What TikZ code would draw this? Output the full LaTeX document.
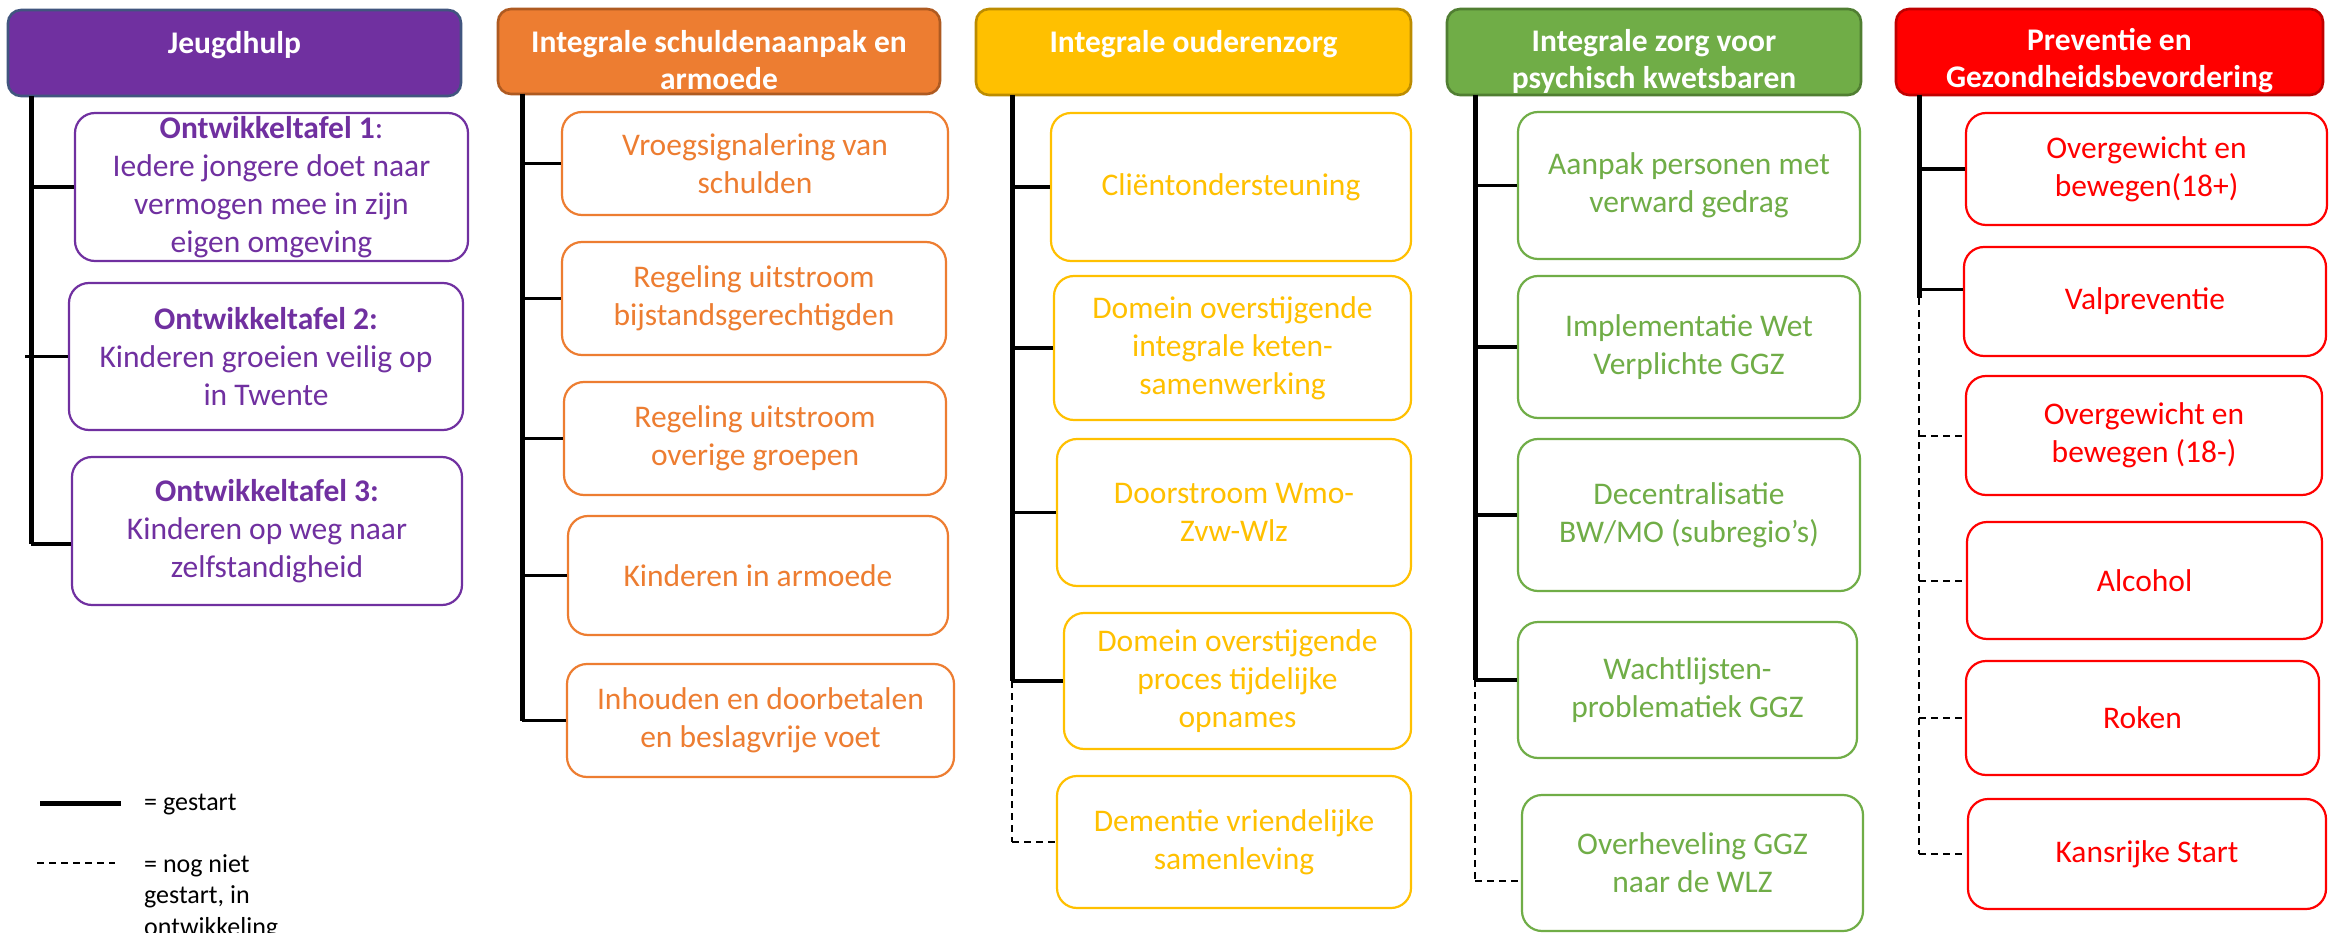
\documentclass[tikz,border=0pt]{standalone}
\usepackage{fontspec}
\setmainfont{Carlito}
\usetikzlibrary{fit}
\definecolor{jPur}{HTML}{7030A0}
\definecolor{jPurB}{HTML}{41557F}
\definecolor{sOra}{HTML}{ED7D31}
\definecolor{sOraB}{HTML}{AE5A21}
\definecolor{oGold}{HTML}{FFC000}
\definecolor{oGoldB}{HTML}{BC8C00}
\definecolor{gGrn}{HTML}{70AD47}
\definecolor{gGrnB}{HTML}{507E32}
\definecolor{pRed}{HTML}{FF0000}
\definecolor{pRedB}{HTML}{C00000}
\newcommand\itemfont{\fontsize{31.5}{38}\selectfont}
\newcommand\hdrfont{\bfseries\fontsize{31.5}{37}\selectfont}
\newcommand\legfont{\fontsize{26}{31.5}\selectfont}
\tikzset{
  hdr/.style 2 args={fill=#1, draw=#2, line width=2.6pt, rounded corners=13pt, inner sep=0pt},
  hdrtext/.style={text=white, font=\hdrfont, align=center, inner sep=0pt},
  item/.style={draw=#1, text=#1, line width=2.2pt, rounded corners=20pt, inner sep=0pt, align=center, font=\itemfont},
  spine/.style={draw=black, line width=5pt},
  branch/.style={draw=black, line width=3.6pt},
  todo/.style={draw=black, line width=2pt, dash pattern=on 7pt off 5pt},
  legtext/.style={font=\legfont, inner sep=0pt, text=black}
}
% name, colour, x1, y1, x2, y2, text
\newcommand\itembox[7]{%
  \pgfmathsetmacro\ibx{(#3+#5)/2}%
  \pgfmathsetmacro\iby{(#4+#6)/2}%
  \pgfmathsetmacro\ibw{#5-#3}%
  \pgfmathsetmacro\ibh{#6-#4}%
  \node[item=#2, minimum width=\ibw pt, minimum height=\ibh pt] (#1) at (\ibx,\iby) {#7};%
}
\begin{document}
\begin{tikzpicture}[x=1pt,y=-1pt]
\useasboundingbox (0,0) rectangle (2335,933);
\fill[white] (0,0) rectangle (2335,933);

% ---------------- Column 1: Jeugdhulp
\node[hdr={jPur}{jPurB}, fit={(8,10) (461,96)}] (h1) {};
\node[hdrtext] (h1t) at (234.5,45) {Jeugdhulp};
\itembox{j1}{jPur}{75}{113}{468}{261}{\textbf{Ontwikkeltafel 1}:\\Iedere jongere doet naar\\vermogen mee in zijn\\eigen omgeving}
\itembox{j2}{jPur}{69}{283}{463}{430}{\textbf{Ontwikkeltafel 2:}\\Kinderen groeien veilig op\\in Twente}
\itembox{j3}{jPur}{72}{457}{462}{605}{\textbf{Ontwikkeltafel 3:}\\Kinderen op weg naar\\zelfstandigheid}
\coordinate (s1) at (31,96);
\coordinate (s1l) at (25,96);
\coordinate (j3b) at ([yshift=-13pt]j3.west);
\draw[spine] (s1) -- (s1 |- j3b);
\draw[branch] (s1 |- j1.west) -- (j1.west);
\draw[branch] (s1l |- j2.west) -- (j2.west);
\draw[branch] (s1 |- j3b) -- (j3b);

% ---------------- Column 2: schulden
\node[hdr={sOra}{sOraB}, fit={(498,9) (940,94)}] (h2) {};
\node[hdrtext] (h2t) at (719,60.5) {Integrale schuldenaanpak en\\armoede};
\itembox{a1}{sOra}{562}{112}{948}{215}{Vroegsignalering van\\schulden}
\itembox{a2}{sOra}{562}{242}{946}{355}{Regeling uitstroom\\bijstandsgerechtigden}
\itembox{a3}{sOra}{564}{382}{946}{495}{Regeling uitstroom\\overige groepen}
\itembox{a4}{sOra}{568}{516}{948}{635}{Kinderen in armoede}
\itembox{a5}{sOra}{567}{664}{954}{777}{Inhouden en doorbetalen\\en beslagvrije voet}
\coordinate (s2) at (522,94);
\draw[spine] (s2) -- (s2 |- a5.west);
\foreach \b in {a1,a2,a3,a4,a5} \draw[branch] (s2 |- \b.west) -- (\b.west);

% ---------------- Column 3: ouderenzorg
\node[hdr={oGold}{oGoldB}, fit={(976,9) (1411,95)}] (h3) {};
\node[hdrtext] (h3t) at (1193.5,44) {Integrale ouderenzorg};
\itembox{o1}{oGold}{1051}{113}{1411}{261}{Cliëntondersteuning}
\itembox{o2}{oGold}{1054}{276}{1411}{420}{Domein overstijgende\\integrale keten-\\samenwerking}
\itembox{o3}{oGold}{1057}{439}{1411}{586}{Doorstroom Wmo-\\Zvw-Wlz}
\itembox{o4}{oGold}{1064}{613}{1411}{749}{Domein overstijgende\\proces tijdelijke\\opnames}
\itembox{o5}{oGold}{1057}{776}{1411}{908}{Dementie vriendelijke\\samenleving}
\coordinate (s3) at (1012,95);
\draw[spine] (s3) -- (s3 |- o4.west);
\draw[todo] (s3 |- o4.west) -- (s3 |- o5.west);
\foreach \b in {o1,o2,o3,o4} \draw[branch] (s3 |- \b.west) -- (\b.west);
\draw[todo] (s3 |- o5.west) -- (o5.west);

% ---------------- Column 4: psychisch kwetsbaren
\node[hdr={gGrn}{gGrnB}, fit={(1447,9) (1861,95)}] (h4) {};
\node[hdrtext] (h4t) at (1654,61) {Integrale zorg voor\\psychisch kwetsbaren};
\itembox{g1}{gGrn}{1518}{112}{1860}{259}{Aanpak personen met\\verward gedrag}
\itembox{g2}{gGrn}{1518}{276}{1860}{418}{Implementatie Wet\\Verplichte GGZ}
\itembox{g3}{gGrn}{1518}{439}{1860}{591}{Decentralisatie\\BW/MO (subregio’s)}
\itembox{g4}{gGrn}{1518}{622}{1857}{758}{Wachtlijsten-\\problematiek GGZ}
\itembox{g5}{gGrn}{1522}{795}{1863}{931}{Overheveling GGZ\\naar de WLZ}
\coordinate (s4) at (1475,95);
\coordinate (g4b) at ([yshift=10pt]g4.west);
\coordinate (g5b) at ([yshift=-18pt]g5.west);
\draw[spine] (s4) -- (s4 |- g4b);
\draw[todo] (s4 |- g4b) -- (s4 |- g5b);
\foreach \b in {g1,g2,g3} \draw[branch] (s4 |- \b.west) -- (\b.west);
\draw[branch] (s4 |- g4b) -- (g4b);
\draw[todo] (s4 |- g5b) -- (g5b);

% ---------------- Column 5: Preventie
\node[hdr={pRed}{pRedB}, fit={(1896,9) (2323,95)}] (h5) {};
\node[hdrtext] (h5t) at (2109.5,61) {Preventie en\\Gezondheidsbevordering};
\itembox{p1}{pRed}{1966}{113}{2327}{225}{Overgewicht en\\bewegen(18+)}
\itembox{p2}{pRed}{1964}{247}{2326}{356}{Valpreventie}
\itembox{p3}{pRed}{1966}{376}{2322}{495}{Overgewicht en\\bewegen (18-)}
\itembox{p4}{pRed}{1967}{522}{2322}{639}{Alcohol}
\itembox{p5}{pRed}{1966}{661}{2319}{775}{Roken}
\itembox{p6}{pRed}{1968}{799}{2326}{909}{Kansrijke Start}
\coordinate (s5) at (1919,95);
\coordinate (s5e) at (1919,298);
\coordinate (p2b) at ([yshift=12pt]p2.west);
\draw[spine] (s5) -- (s5e);
\draw[todo] (s5e) -- (s5 |- p6.west);
\draw[branch] (s5 |- p1.west) -- (p1.west);
\draw[branch] (s5 |- p2b) -- (p2b);
\foreach \b in {p3,p4,p5,p6} \draw[todo] (s5 |- \b.west) -- (\b.west);

% ---------------- Legend
\coordinate (l1a) at (40,803);
\coordinate (l1b) at (121,803);
\draw[spine] (l1a) -- (l1b);
\node[legtext, anchor=west] (l1t) at (144,805) {= gestart};
\coordinate (l2a) at (37,863);
\coordinate (l2b) at (115,863);
\draw[todo] (l2a) -- (l2b);
\node[legtext, anchor=north west, align=left] (l2t) at (144,854) {= nog niet\\gestart, in\\ontwikkeling};
\end{tikzpicture}
\end{document}
